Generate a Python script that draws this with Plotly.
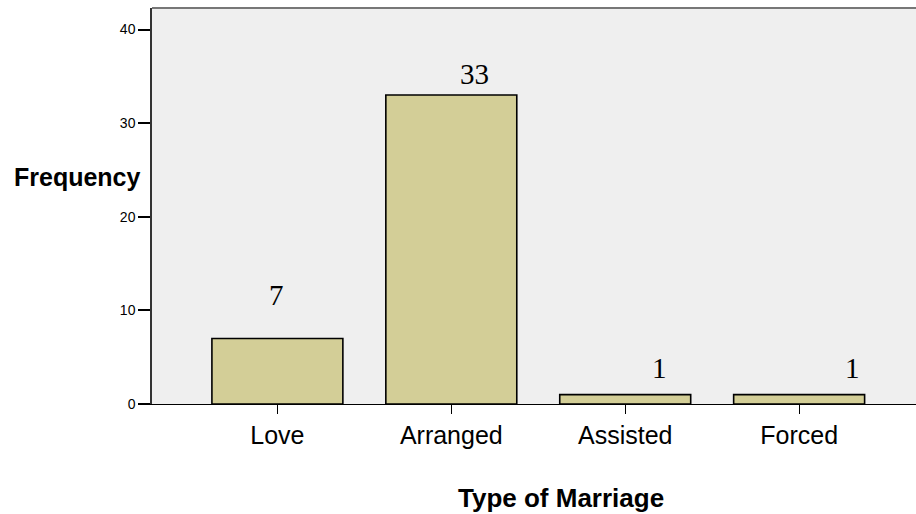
import plotly.graph_objects as go

categories = ["Love", "Arranged", "Assisted", "Forced"]
frequencies = [7, 33, 1, 1]
y_ticks = [0, 10, 20, 30, 40]

# label offsets (px) as drawn in the reference
label_xshift = [-1, 23, 34, 53]
label_yshift = [43, 21, 27, 27]

W, H = 916, 514
L, R, T, B = 152, 0, 8, 110
PW, PH = W - L - R, H - T - B

fig = go.Figure()
fig.add_trace(go.Bar(
    x=list(range(len(categories))), y=frequencies, width=0.753,
    marker=dict(color="#D3CE97", line=dict(color="#000000", width=1.6)),
    hoverinfo="skip",
))

for i, v in enumerate(frequencies):
    fig.add_annotation(x=i, y=v, text=str(v), showarrow=False, xref="x", yref="y",
                       xshift=label_xshift[i], yshift=label_yshift[i], yanchor="middle",
                       font=dict(family="Liberation Serif", size=29, color="#000"))

fig.update_layout(
    width=W, height=H,
    margin=dict(l=L, r=R, t=T, b=B, pad=0),
    paper_bgcolor="white", plot_bgcolor="#EFEFEF",
    showlegend=False,
    xaxis=dict(range=[-0.721, 3.672], tickmode="array", tickvals=list(range(len(categories))),
               ticktext=categories, ticks="outside", ticklen=9, tickwidth=1.3, tickcolor="#000",
               showline=True, linecolor="#000", linewidth=1.3, showgrid=False, zeroline=False,
               tickfont=dict(family="Liberation Sans", size=25, color="#000")),
    yaxis=dict(range=[0, 42.3], tickvals=y_ticks, ticks="outside", ticklen=12, tickwidth=2,
               tickcolor="#000", showline=True, linecolor="#333", linewidth=1.5,
               showgrid=False, zeroline=False,
               tickfont=dict(family="Liberation Sans", size=14, color="#000")),
)

fig.add_shape(type="line", xref="paper", yref="paper", x0=0, x1=1, y0=1, y1=1,
              line=dict(color="#777", width=2))

fig.add_annotation(x=(12 - L) / PW, y=(H - B - 177) / PH, xref="paper", yref="paper",
                   xanchor="left", yanchor="middle", text="<b>Frequency</b>", showarrow=False,
                   font=dict(family="Liberation Sans", size=25, color="#000"))
fig.add_annotation(x=(561 - L) / PW, y=-(498 - (H - B)) / PH, xref="paper", yref="paper",
                   xanchor="center", yanchor="middle", text="<b>Type of Marriage</b>", showarrow=False,
                   font=dict(family="Liberation Sans", size=26, color="#000"))

fig.write_html("out.html", config={"displayModeBar": False},
               post_script="document.body.style.margin='0';")
